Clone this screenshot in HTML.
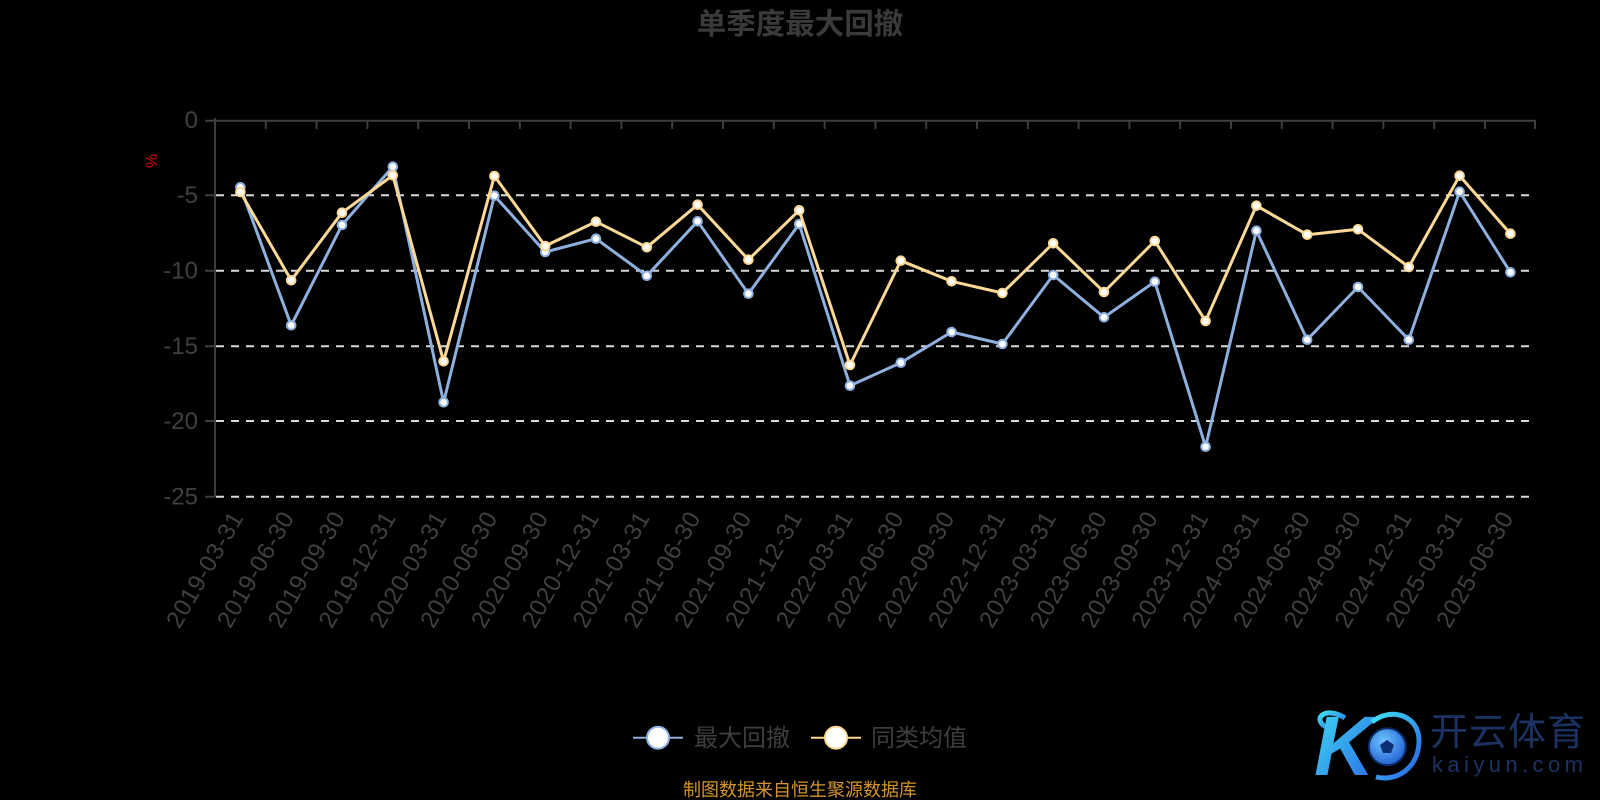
<!DOCTYPE html>
<html><head><meta charset="utf-8"><style>
html,body{margin:0;padding:0;background:#000;}
svg{display:block;}
text{font-family:"Liberation Sans","Noto Sans CJK SC",sans-serif;}
</style></head><body>
<svg width="1600" height="800" viewBox="0 0 1600 800" xmlns="http://www.w3.org/2000/svg">
<defs>
<linearGradient id="kg" x1="0" y1="0" x2="1" y2="1">
<stop offset="0" stop-color="#3fe0f2"/><stop offset="1" stop-color="#2a5fe6"/>
</linearGradient>
<radialGradient id="bg" cx="0.4" cy="0.35" r="0.7">
<stop offset="0" stop-color="#6fc4ff"/><stop offset="1" stop-color="#1f5ed0"/>
</radialGradient>
</defs>
<rect width="1600" height="800" fill="#000"/>
<text x="800" y="34" text-anchor="middle" font-size="29.5" font-weight="bold" fill="#3a3a3a">单季度最大回撤</text>
<text transform="translate(157,161) rotate(-90)" text-anchor="middle" font-size="16" fill="#e00000">%</text>
<g stroke="#d9d9d9" stroke-width="2" stroke-dasharray="8,7">
<line x1="216" y1="195.3" x2="1536" y2="195.3"/>
<line x1="216" y1="270.8" x2="1536" y2="270.8"/>
<line x1="216" y1="346.3" x2="1536" y2="346.3"/>
<line x1="216" y1="421" x2="1536" y2="421"/>
<line x1="216" y1="496.7" x2="1536" y2="496.7"/>
</g>
<g stroke="#3d3d3d" stroke-width="2" fill="none">
<line x1="215" y1="118" x2="215" y2="497"/>
<line x1="214" y1="120.7" x2="1536" y2="120.7"/>
<path d="M205 120.7H215M205 195.3H215M205 270.8H215M205 346.3H215M205 421H215M205 496.7H215"/>
<path d="M265.8 120.7V129M316.6 120.7V129M367.4 120.7V129M418.2 120.7V129M469 120.7V129M519.8 120.7V129M570.6 120.7V129M621.4 120.7V129M672.2 120.7V129M723 120.7V129M773.8 120.7V129M824.6 120.7V129M875.4 120.7V129M926.2 120.7V129M977 120.7V129M1027.8 120.7V129M1078.6 120.7V129M1129.4 120.7V129M1180.2 120.7V129M1231 120.7V129M1281.8 120.7V129M1332.6 120.7V129M1383.4 120.7V129M1434.2 120.7V129M1485 120.7V129M1535 120.7V129"/>
</g>
<g font-size="24" fill="#404040" text-anchor="end">
<text x="198" y="128">0</text>
<text x="198" y="203">-5</text>
<text x="198" y="278.5">-10</text>
<text x="198" y="354">-15</text>
<text x="198" y="429">-20</text>
<text x="198" y="504.5">-25</text>
</g>
<g font-size="24" fill="#404040" text-anchor="end" dominant-baseline="central">
<text x="237.4" y="514" transform="rotate(-60 237.4 514)" textLength="129" lengthAdjust="spacing">2019-03-31</text>
<text x="288.2" y="514" transform="rotate(-60 288.2 514)" textLength="129" lengthAdjust="spacing">2019-06-30</text>
<text x="339" y="514" transform="rotate(-60 339 514)" textLength="129" lengthAdjust="spacing">2019-09-30</text>
<text x="389.8" y="514" transform="rotate(-60 389.8 514)" textLength="129" lengthAdjust="spacing">2019-12-31</text>
<text x="440.6" y="514" transform="rotate(-60 440.6 514)" textLength="129" lengthAdjust="spacing">2020-03-31</text>
<text x="491.4" y="514" transform="rotate(-60 491.4 514)" textLength="129" lengthAdjust="spacing">2020-06-30</text>
<text x="542.2" y="514" transform="rotate(-60 542.2 514)" textLength="129" lengthAdjust="spacing">2020-09-30</text>
<text x="593" y="514" transform="rotate(-60 593 514)" textLength="129" lengthAdjust="spacing">2020-12-31</text>
<text x="643.8" y="514" transform="rotate(-60 643.8 514)" textLength="129" lengthAdjust="spacing">2021-03-31</text>
<text x="694.6" y="514" transform="rotate(-60 694.6 514)" textLength="129" lengthAdjust="spacing">2021-06-30</text>
<text x="745.4" y="514" transform="rotate(-60 745.4 514)" textLength="129" lengthAdjust="spacing">2021-09-30</text>
<text x="796.2" y="514" transform="rotate(-60 796.2 514)" textLength="129" lengthAdjust="spacing">2021-12-31</text>
<text x="847" y="514" transform="rotate(-60 847 514)" textLength="129" lengthAdjust="spacing">2022-03-31</text>
<text x="897.8" y="514" transform="rotate(-60 897.8 514)" textLength="129" lengthAdjust="spacing">2022-06-30</text>
<text x="948.6" y="514" transform="rotate(-60 948.6 514)" textLength="129" lengthAdjust="spacing">2022-09-30</text>
<text x="999.4" y="514" transform="rotate(-60 999.4 514)" textLength="129" lengthAdjust="spacing">2022-12-31</text>
<text x="1050.2" y="514" transform="rotate(-60 1050.2 514)" textLength="129" lengthAdjust="spacing">2023-03-31</text>
<text x="1101" y="514" transform="rotate(-60 1101 514)" textLength="129" lengthAdjust="spacing">2023-06-30</text>
<text x="1151.8" y="514" transform="rotate(-60 1151.8 514)" textLength="129" lengthAdjust="spacing">2023-09-30</text>
<text x="1202.6" y="514" transform="rotate(-60 1202.6 514)" textLength="129" lengthAdjust="spacing">2023-12-31</text>
<text x="1253.4" y="514" transform="rotate(-60 1253.4 514)" textLength="129" lengthAdjust="spacing">2024-03-31</text>
<text x="1304.2" y="514" transform="rotate(-60 1304.2 514)" textLength="129" lengthAdjust="spacing">2024-06-30</text>
<text x="1355" y="514" transform="rotate(-60 1355 514)" textLength="129" lengthAdjust="spacing">2024-09-30</text>
<text x="1405.8" y="514" transform="rotate(-60 1405.8 514)" textLength="129" lengthAdjust="spacing">2024-12-31</text>
<text x="1456.6" y="514" transform="rotate(-60 1456.6 514)" textLength="129" lengthAdjust="spacing">2025-03-31</text>
<text x="1507.4" y="514" transform="rotate(-60 1507.4 514)" textLength="129" lengthAdjust="spacing">2025-06-30</text>
</g>
<!-- blue series -->
<polyline fill="none" stroke="#8eb0de" stroke-width="3" stroke-linejoin="round" points="240.4,187.3 291.2,325.3 342,225 392.8,166.7 443.6,402.3 494.4,195.7 545.2,252 596,238.7 646.8,275.8 697.6,221.3 748.4,293.7 799.2,224 850,385.7 900.8,362.7 951.6,332 1002.4,344 1053.2,275 1104,317.3 1154.8,281.7 1205.6,446.7 1256.4,230.7 1307.2,339.7 1358,287 1408.8,339.7 1459.6,191.7 1510.4,272.3"/>
<g fill="#fff" stroke="#8eb0de" stroke-width="2">
<circle cx="240.4" cy="187.3" r="4.3"/><circle cx="291.2" cy="325.3" r="4.3"/><circle cx="342" cy="225" r="4.3"/><circle cx="392.8" cy="166.7" r="4.3"/><circle cx="443.6" cy="402.3" r="4.3"/><circle cx="494.4" cy="195.7" r="4.3"/><circle cx="545.2" cy="252" r="4.3"/><circle cx="596" cy="238.7" r="4.3"/><circle cx="646.8" cy="275.8" r="4.3"/><circle cx="697.6" cy="221.3" r="4.3"/><circle cx="748.4" cy="293.7" r="4.3"/><circle cx="799.2" cy="224" r="4.3"/><circle cx="850" cy="385.7" r="4.3"/><circle cx="900.8" cy="362.7" r="4.3"/><circle cx="951.6" cy="332" r="4.3"/><circle cx="1002.4" cy="344" r="4.3"/><circle cx="1053.2" cy="275" r="4.3"/><circle cx="1104" cy="317.3" r="4.3"/><circle cx="1154.8" cy="281.7" r="4.3"/><circle cx="1205.6" cy="446.7" r="4.3"/><circle cx="1256.4" cy="230.7" r="4.3"/><circle cx="1307.2" cy="339.7" r="4.3"/><circle cx="1358" cy="287" r="4.3"/><circle cx="1408.8" cy="339.7" r="4.3"/><circle cx="1459.6" cy="191.7" r="4.3"/><circle cx="1510.4" cy="272.3" r="4.3"/>
</g>
<!-- yellow series -->
<polyline fill="none" stroke="#fdd998" stroke-width="3" stroke-linejoin="round" points="240.4,192 291.2,280.3 342,212.7 392.8,175.3 443.6,361.3 494.4,176 545.2,246 596,221.7 646.8,247.3 697.6,204.7 748.4,259.7 799.2,210.3 850,365 900.8,260.7 951.6,281.3 1002.4,293 1053.2,243.3 1104,292 1154.8,241 1205.6,321 1256.4,205.7 1307.2,234.7 1358,229.3 1408.8,267 1459.6,175.7 1510.4,233.7"/>
<g fill="#fff" stroke="#fdd998" stroke-width="2">
<circle cx="240.4" cy="192" r="4.3"/><circle cx="291.2" cy="280.3" r="4.3"/><circle cx="342" cy="212.7" r="4.3"/><circle cx="392.8" cy="175.3" r="4.3"/><circle cx="443.6" cy="361.3" r="4.3"/><circle cx="494.4" cy="176" r="4.3"/><circle cx="545.2" cy="246" r="4.3"/><circle cx="596" cy="221.7" r="4.3"/><circle cx="646.8" cy="247.3" r="4.3"/><circle cx="697.6" cy="204.7" r="4.3"/><circle cx="748.4" cy="259.7" r="4.3"/><circle cx="799.2" cy="210.3" r="4.3"/><circle cx="850" cy="365" r="4.3"/><circle cx="900.8" cy="260.7" r="4.3"/><circle cx="951.6" cy="281.3" r="4.3"/><circle cx="1002.4" cy="293" r="4.3"/><circle cx="1053.2" cy="243.3" r="4.3"/><circle cx="1104" cy="292" r="4.3"/><circle cx="1154.8" cy="241" r="4.3"/><circle cx="1205.6" cy="321" r="4.3"/><circle cx="1256.4" cy="205.7" r="4.3"/><circle cx="1307.2" cy="234.7" r="4.3"/><circle cx="1358" cy="229.3" r="4.3"/><circle cx="1408.8" cy="267" r="4.3"/><circle cx="1459.6" cy="175.7" r="4.3"/><circle cx="1510.4" cy="233.7" r="4.3"/>
</g>
<!-- legend -->
<line x1="633" y1="737.7" x2="683" y2="737.7" stroke="#8eb0de" stroke-width="2"/>
<circle cx="658" cy="737.7" r="11" fill="#fff" stroke="#8eb0de" stroke-width="2"/>
<text x="694" y="746" font-size="24" fill="#3e3e3e">最大回撤</text>
<line x1="811" y1="737.7" x2="861" y2="737.7" stroke="#fdd998" stroke-width="2"/>
<circle cx="836" cy="737.7" r="11" fill="#fff" stroke="#fdd998" stroke-width="2"/>
<text x="871" y="746" font-size="24" fill="#3e3e3e">同类均值</text>
<text x="800" y="796" text-anchor="middle" font-size="18" fill="#d4952b">制图数据来自恒生聚源数据库</text>
<!-- logo -->
<path d="M1345 718 C1325 705 1310 720 1328 728" fill="none" stroke="url(#kg)" stroke-width="5"/>
<text x="1314" y="775" font-family="Liberation Serif,serif" font-style="italic" font-weight="bold" font-size="84" fill="url(#kg)">K</text>
<path d="M1372 722 C1392 706 1420 716 1419 742 C1418 768 1397 782 1376 777" fill="none" stroke="url(#kg)" stroke-width="5"/>
<circle cx="1387.3" cy="746.7" r="18.5" fill="url(#bg)" stroke="#0c2a66" stroke-width="2"/>
<polygon points="1387,740 1394,745 1391,753 1383,753 1380,745" fill="#0d2f73"/>
<text x="1430" y="745" font-family="Liberation Sans,Noto Sans CJK SC,sans-serif" font-size="38" fill="#1b3263" textLength="155" lengthAdjust="spacing">开云体育</text>
<text x="1432" y="772" font-size="22" fill="#1b3263" textLength="151" lengthAdjust="spacing">kaiyun.com</text>
</svg>
</body></html>
